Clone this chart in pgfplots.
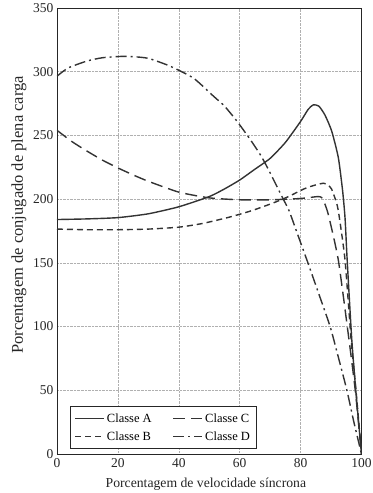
\documentclass[border=0pt]{standalone}
\usepackage{pgfplots}
\pgfplotsset{compat=1.18}
\usepackage{fontspec}
\setmainfont{Liberation Serif}
\definecolor{curve}{HTML}{333333}
\definecolor{gridc}{HTML}{B0B0B0}
\begin{document}
\begin{tikzpicture}
\useasboundingbox (-57bp,-39bp) rectangle (316bp,454bp);
\begin{axis}[
  scale only axis,
  width=304.5bp, height=446bp,
  xmin=0, xmax=100, ymin=0, ymax=350,
  xtick={0,20,...,100}, ytick={0,50,...,350},
  grid=major,
  major grid style={densely dotted, gridc, line width=0.5bp},
  axis line style={line width=0.9bp, black!85},
  major tick length=0pt,
  /pgf/number format/assume math mode=true,
  tick label style={font=\fontsize{13.5bp}{16bp}\selectfont, text=black!85},
  xticklabel style={yshift=-1bp},
  xlabel={Porcentagem de velocidade síncrona},
  ylabel={Porcentagem de conjugado de plena carga},
  every axis x label/.style={at={(axis description cs:0.489,-0.074)}, anchor=base, font=\fontsize{13.7bp}{16bp}\selectfont, text=black!85},
  every axis y label/.style={at={(axis description cs:-0.1248,0.536)}, anchor=center, rotate=90, font=\fontsize{16.5bp}{19bp}\selectfont, text=black!85},
  legend columns=2,
  legend cell align=left,
  legend image code/.code={\draw[#1, line width=1.5bp] (0bp,0bp) -- (29bp,0bp);},
  legend style={at={(axis description cs:0.0427,0.1076)}, anchor=north west,
    draw=black!85, font=\fontsize{12.5bp}{14bp}\selectfont,
    inner xsep=4bp, inner ysep=5bp, row sep=4bp,
    /tikz/every even column/.append style={column sep=19bp}},
  every axis legend/.append style={line width=0.9bp},
]
% Classe A
\addplot[curve, line width=1.4bp, smooth, tension=0.35] table {
0 184
10 184.5
20 185.5
30 188.5
40 194
50 202
55 208
60 215
65 223.5
70 232
75 244.5
80 261
82.5 270.5
84.2 274
86 273
88 266
90.2 253.5
92.4 232.5
93.8 206.5
94.6 185
95.3 152
96.8 90
98.3 45
100 0
};
\addlegendentry{Classe A}
% Classe C
\addplot[curve, line width=1.4bp, dash pattern=on 12bp off 6bp, smooth, tension=0.35] table {
0 254
5 245
10 237.5
15 230.5
20 224.5
25 219
30 214
40 205.5
50 201
60 199.5
70 199.5
80 200.5
85.5 202
86.9 201.3
88 196
89.2 187
92.4 152
95.9 89.5
98 49
100 0
};
\addlegendentry{Classe C}
% Classe B
\addplot[curve, line width=1.4bp, dash pattern=on 6bp off 4bp, smooth, tension=0.35] table {
0 176.5
10 176
20 176
30 176.5
40 178
48 181
56.8 186
64 191
71 197
76 202
80.9 207.8
84 210.5
87.5 212.5
89 211
90.2 207.8
91.9 196.4
92.7 186
94.6 152
96.6 89.5
98.3 47
100 0
};
\addlegendentry{Classe B}
% Classe D
\addplot[curve, line width=1.4bp, dash pattern=on 11bp off 4bp on 2bp off 4bp, smooth, tension=0.35] table {
0 296.5
3.7 303
10 308.5
15 311
21 312
25 311.8
30 310.5
37 304.5
44.8 295
51.3 281
55 273
59 261.5
63.4 247
67 234
69.7 222
74.1 201
76.2 191
79 172.5
82.4 150
86 125.5
89.7 100
92.5 75
95.2 50
97.5 25
100 0
};
\addlegendentry{Classe D}
\end{axis}
\end{tikzpicture}
\end{document}
